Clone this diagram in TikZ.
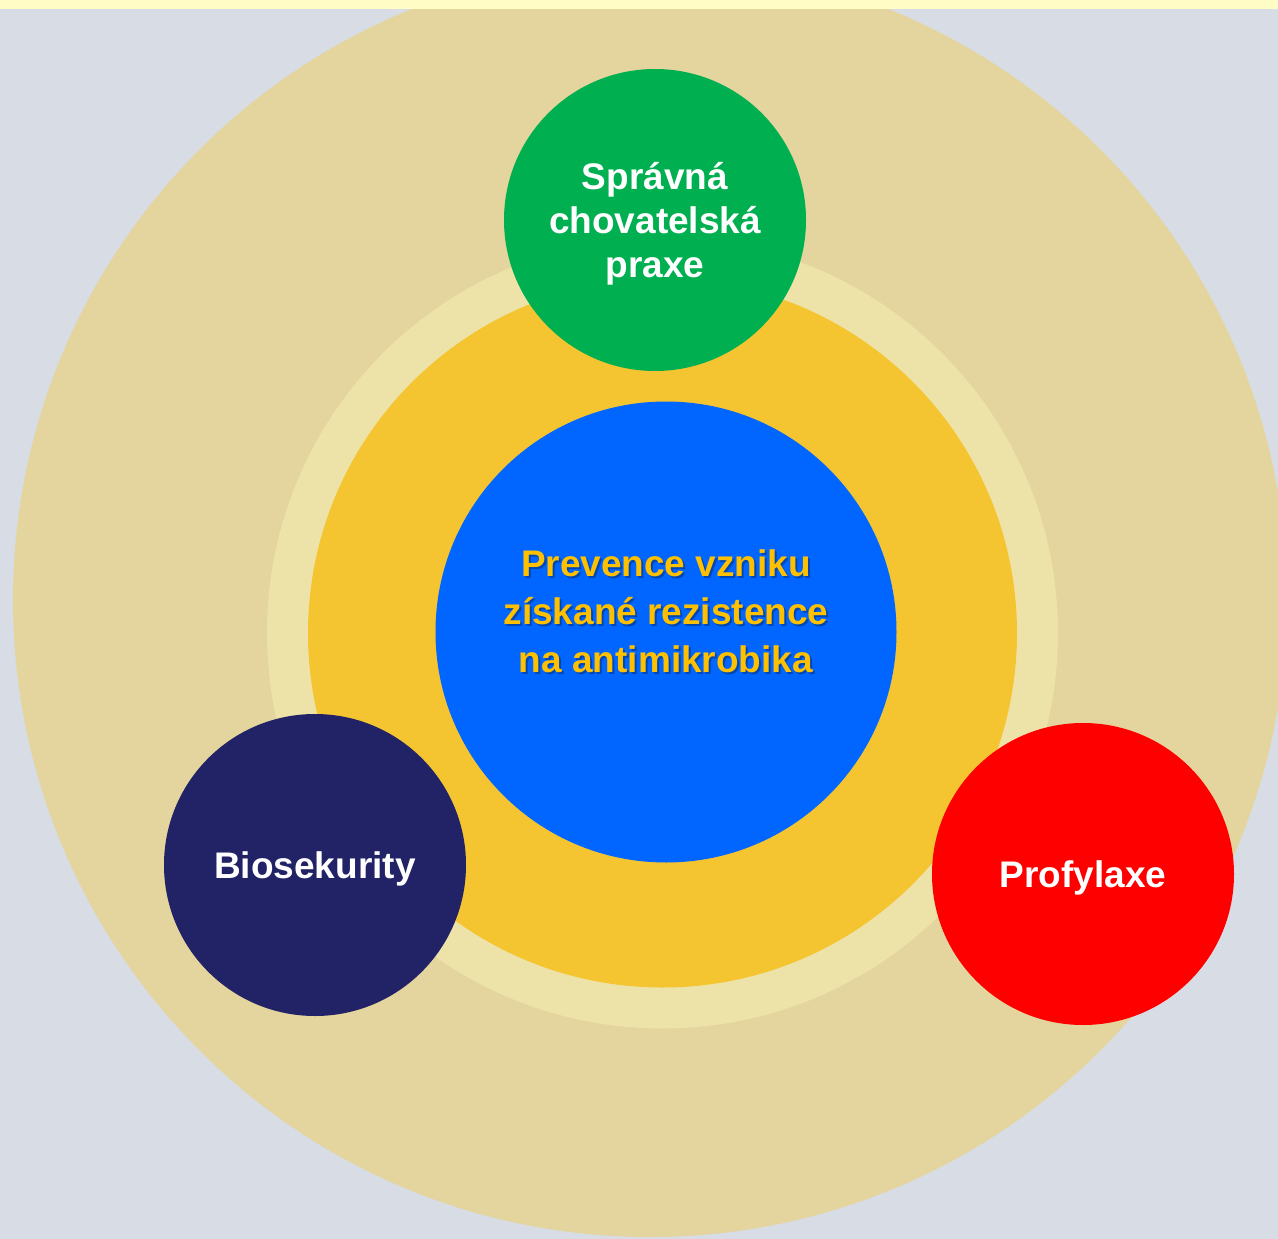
\documentclass[tikz,border=0pt]{standalone}
\usepackage{fontspec}
\setmainfont{Liberation Sans}
\definecolor{skybg}{HTML}{D8DCE4}
\definecolor{bandc}{HTML}{FFFCC6}
\definecolor{tanc}{HTML}{E4D49D}
\definecolor{palec}{HTML}{EDE3A9}
\definecolor{orangec}{HTML}{F5C431}
\definecolor{bluec}{HTML}{0066FF}
\definecolor{greenc}{HTML}{00B050}
\definecolor{navyc}{HTML}{222266}
\definecolor{redc}{HTML}{FF0000}
\definecolor{goldtext}{HTML}{FFC000}
\tikzset{
  disc/.style={circle, inner sep=0pt, draw=none},
  smalldisc/.style={disc, minimum size=302pt},
  smalltext/.style={text=white, align=center,
    font=\fontsize{37}{44}\selectfont\bfseries},
  maintext/.style={align=center, font=\fontsize{37}{48}\selectfont\bfseries}
}
\begin{document}
\begin{tikzpicture}[x=1pt,y=-1pt]
\useasboundingbox (0,0) rectangle (1278,1239);
\fill[skybg] (0,0) rectangle (1278,1239);
\begin{scope}
  \clip (0,0) rectangle (1278,1239);
  \fill[tanc] (650,600) circle[radius=637pt];
\end{scope}
\fill[bandc] (0,0) rectangle (1278,9);
\fill[palec] (662.5,633) circle[radius=395.5pt];
\fill[orangec] (662.5,633) circle[radius=354.5pt];
\node[disc, fill=bluec, minimum size=461pt] (core) at (666,632) {};
\node[maintext, text=black, opacity=0.3] (coreshadow) at (668,613)
  {Prevence vzniku\\získané rezistence\\na antimikrobika};
\node[maintext, text=goldtext] (coretext) at (666,611)
  {Prevence vzniku\\získané rezistence\\na antimikrobika};
\node[smalldisc, fill=greenc] (green) at (655,220) {};
\node[smalltext] (greentext) at (655,224) {Správná\\chovatelská\\praxe};
\node[smalldisc, fill=navyc] (navy) at (315,865) {};
\node[smalltext] (navytext) at (315,869) {Biosekurity};
\node[smalldisc, fill=redc] (red) at (1083,874) {};
\node[smalltext] (redtext) at (1083,878) {Profylaxe};
\end{tikzpicture}
\end{document}
